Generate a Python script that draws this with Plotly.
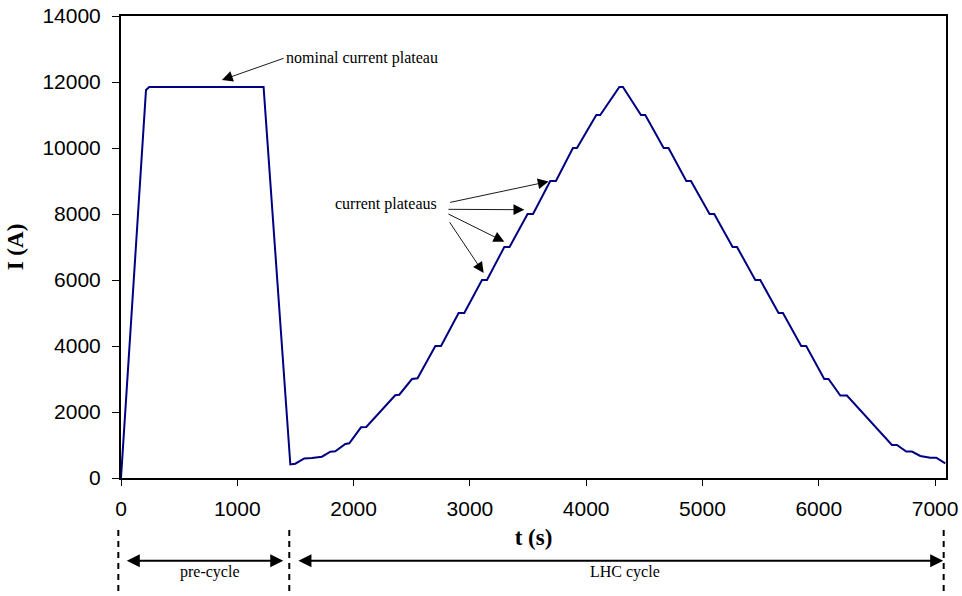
import plotly.graph_objects as go

# ---- data ----
t_s = [0, 215, 243, 1226, 1456, 1499, 1576, 1642, 1728, 1800, 1843, 1929, 1963,
       2064, 2109, 2358, 2393, 2502, 2550, 2703, 2752, 2903, 2952, 3104, 3147,
       3296, 3341, 3496, 3543, 3691, 3740, 3886, 3921, 4087, 4121, 4285, 4316,
       4471, 4508, 4666, 4708, 4861, 4901, 5061, 5101, 5259, 5297, 5454, 5497,
       5654, 5692, 5849, 5892, 6047, 6084, 6185, 6242, 6629, 6672, 6752, 6801,
       6873, 6959, 7010, 7088]
current_A = [0, 11760, 11850, 11850, 410, 433, 594, 606, 646, 797, 809, 1030, 1050,
             1536, 1545, 2506, 2524, 3000, 3021, 4000, 4000, 5000, 5000, 6000, 6000,
             7000, 7000, 8000, 8000, 9000, 9000, 10000, 10000, 11000, 11000, 11850, 11850,
             11000, 11000, 10000, 10000, 9000, 9000, 8000, 8000, 7000, 7000, 6000, 6000,
             5000, 5000, 4000, 4000, 3000, 3000, 2500, 2500, 1000, 1000, 800, 800,
             667, 615, 615, 445]

x_ticks = [0, 1000, 2000, 3000, 4000, 5000, 6000, 7000]
y_ticks = [0, 2000, 4000, 6000, 8000, 10000, 12000, 14000]
x_max = 7094
y_max = 14000

phase_bounds_s = [-23, 1447, 7074]
phase_labels = ["pre-cycle", "LHC cycle"]
phase_label_t = [763, 4336]
phase_arrow_start = [37, 1513]
phase_arrow_end = [1395, 7070]

# annotation arrows (tail -> tip) in data units
nominal_tip = (868, 12061)
nominal_tail = (1398, 12718)
plateau_text_pos = (2279, 8294)
plateau_tails = [(2817, 8342), (2803, 8142), (2803, 8021), (2817, 7797)]
plateau_tips = [(3677, 8985), (3468, 8130), (3296, 7161), (3118, 6212)]

SERIF = "Liberation Serif, Times New Roman, serif"
SANS = "Liberation Sans, Arial, sans-serif"

PLOT_H = 462       # plot area height in px
PLOT_BOTTOM = 478  # pixel row of y=0


def page_y_to_paper(py):
    return (PLOT_BOTTOM - py) / PLOT_H


fig = go.Figure()
fig.add_trace(go.Scatter(x=t_s, y=current_A, mode="lines",
                         line=dict(color="#000080", width=2), showlegend=False,
                         hoverinfo="skip"))

annotations = []
annotations.append(dict(x=nominal_tip[0], y=nominal_tip[1], xref="x", yref="y",
                        ax=nominal_tail[0], ay=nominal_tail[1], axref="x", ayref="y",
                        text="nominal current plateau", xanchor="left", yanchor="middle",
                        showarrow=True, arrowhead=2, arrowsize=2.4, arrowwidth=0.9,
                        arrowcolor="black", font=dict(family=SERIF, size=16, color="black")))
annotations.append(dict(x=plateau_text_pos[0], y=plateau_text_pos[1], xref="x", yref="y",
                        text="current plateaus", showarrow=False,
                        font=dict(family=SERIF, size=16, color="black")))
for (tx, ty), (hx, hy) in zip(plateau_tails, plateau_tips):
    annotations.append(dict(x=hx, y=hy, xref="x", yref="y", ax=tx, ay=ty,
                            axref="x", ayref="y", text="", showarrow=True,
                            arrowhead=2, arrowsize=2.4, arrowwidth=0.9, arrowcolor="black"))

arrow_y = page_y_to_paper(560.7)
label_y = page_y_to_paper(571.7)
for lbl, lx, a0, a1 in zip(phase_labels, phase_label_t, phase_arrow_start, phase_arrow_end):
    annotations.append(dict(x=a1, y=arrow_y, xref="x", yref="paper",
                            ax=a0, ay=0, axref="x", ayref="pixel", text="",
                            showarrow=True, arrowside="end+start",
                            arrowhead=2, startarrowhead=2, arrowsize=1.3, startarrowsize=1.3,
                            arrowwidth=2, arrowcolor="black"))
    annotations.append(dict(x=lx, y=label_y, xref="x", yref="paper", text=lbl,
                            showarrow=False, yanchor="middle",
                            font=dict(family=SERIF, size=16, color="black")))

shapes = []
for b in phase_bounds_s:
    shapes.append(dict(type="line", xref="paper", yref="paper",
                       x0=b / x_max, x1=b / x_max,
                       y0=page_y_to_paper(530), y1=page_y_to_paper(600),
                       line=dict(color="black", width=2, dash="6px,5px")))

fig.update_layout(
    width=962, height=596,
    margin=dict(l=121, r=16, t=16, b=118, autoexpand=False),
    paper_bgcolor="white", plot_bgcolor="white",
    annotations=annotations, shapes=shapes,
    xaxis=dict(range=[0, x_max], tickvals=x_ticks, ticktext=[str(v) for v in x_ticks],
               showgrid=False, zeroline=False, showline=True, linecolor="black",
               linewidth=2, mirror=True, ticks="outside", ticklen=6, tickwidth=1,
               tickcolor="black", ticklabelstandoff=5, ticklabeloverflow="allow",
               tickfont=dict(family=SANS, size=21, color="black"),
               title=dict(text="<b>t (s)</b>", standoff=10,
                          font=dict(family=SERIF, size=23, color="black"))),
    yaxis=dict(range=[0, y_max], tickvals=y_ticks, ticktext=[str(v) for v in y_ticks],
               showgrid=False, zeroline=False, showline=True, linecolor="black",
               linewidth=2, mirror=True, ticks="outside", ticklen=7, tickwidth=1,
               tickcolor="black", ticklabelstandoff=7, ticklabeloverflow="allow",
               tickfont=dict(family=SANS, size=21, color="black"),
               title=dict(text="<b>I (A)</b>", standoff=12,
                          font=dict(family=SERIF, size=23, color="black"))),
)

# remove the browser's default 8px body margin so the figure sits at the page origin
fig.write_html("out.html", config={"displayModeBar": False},
               post_script="document.body.style.margin='0';")
